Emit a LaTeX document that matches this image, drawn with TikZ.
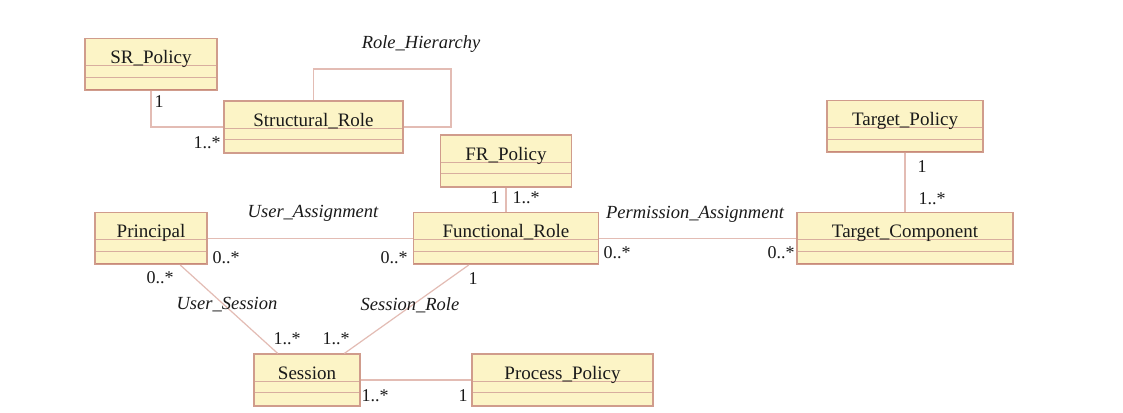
\documentclass[tikz,border=0pt]{standalone}
\usepackage{fontspec}
\setmainfont{Liberation Serif}
\definecolor{boxfill}{HTML}{FCF4C6}
\definecolor{boxline}{HTML}{D09C8C}
\definecolor{boxbottom}{HTML}{C98A7A}
\definecolor{divline}{HTML}{D8AE9E}
\definecolor{assocline}{HTML}{E3BCB4}
\definecolor{txt}{HTML}{1A1A1A}
\tikzset{
  classbox/.style={draw=boxline, line width=1.1pt, fill=boxfill, rectangle,
    inner sep=0pt, minimum height=52pt, text height=25pt, text depth=27pt,
    font=\fontsize{19}{21}\selectfont, text=txt,
    path picture={
      \draw[divline, line width=1pt]
        ([yshift=-27pt]path picture bounding box.north west) -- ([yshift=-27pt]path picture bounding box.north east);
      \draw[divline, line width=1pt]
        ([yshift=-38.5pt]path picture bounding box.north west) -- ([yshift=-38.5pt]path picture bounding box.north east);
      \draw[boxbottom, line width=2.4pt]
        (path picture bounding box.south west) -- (path picture bounding box.south east);
    }},
  assoc/.style={draw=assocline, line width=1.2pt},
  mult/.style={font=\fontsize{18}{20}\selectfont, text=txt, inner sep=0pt},
  rname/.style={font=\fontsize{18.5}{20}\selectfont\itshape, text=txt, inner sep=0pt}
}
\begin{document}
\begin{tikzpicture}[x=1pt,y=-1pt]
\useasboundingbox[fill=white] (0,0) rectangle (1123,412);
% class boxes
\node[classbox, minimum width=132pt] (srp) at (151,64.5) {SR\_Policy};
\node[classbox, minimum width=179pt] (srole) at (313.5,127) {Structural\_Role};
\node[classbox, minimum width=131pt] (frp) at (506,161) {FR\_Policy};
\node[classbox, minimum width=156pt] (tp) at (905,126.5) {Target\_Policy};
\node[classbox, minimum width=112pt] (princ) at (151,238.5) {Principal};
\node[classbox, minimum width=185pt] (frole) at (506,238.5) {Functional\_Role};
\node[classbox, minimum width=216pt] (tc) at (905,238.5) {Target\_Component};
\node[classbox, minimum width=106pt] (sess) at (307,380) {Session};
\node[classbox, minimum width=181pt] (pp) at (562.5,380) {Process\_Policy};
% connectors
\coordinate (rhc) at (451,69);
\draw[assoc] (srp) |- (srole);
\draw[assoc] (srole.north) |- (rhc) |- (srole.east);
\draw[assoc] (frp) -- (frole);
\draw[assoc] (tp) -- (tc);
\draw[assoc] (princ) -- (frole);
\draw[assoc] (frole) -- (tc);
\draw[assoc] (princ) -- (sess);
\draw[assoc] (frole) -- (sess);
\draw[assoc] (sess) -- (pp);
% association names
\node[rname] (lrh) at (421,44) {Role\_Hierarchy};
\node[rname] (lua) at (313,213) {User\_Assignment};
\node[rname] (lpa) at (695,214) {Permission\_Assignment};
\node[rname] (lus) at (227,305) {User\_Session};
\node[rname] (lsr) at (410,305) {Session\_Role};
% multiplicities
\node[mult] (m1) at (159,102) {1};
\node[mult] (m2) at (207,143) {1..*};
\node[mult] (m3) at (495,198) {1};
\node[mult] (m4) at (526,198) {1..*};
\node[mult] (m5) at (922,167) {1};
\node[mult] (m6) at (932,199) {1..*};
\node[mult] (m7) at (226,258) {0..*};
\node[mult] (m8) at (394,258) {0..*};
\node[mult] (m9) at (617,253) {0..*};
\node[mult] (m10) at (781,253) {0..*};
\node[mult] (m11) at (160,278) {0..*};
\node[mult] (m12) at (473,279) {1};
\node[mult] (m13) at (287,339) {1..*};
\node[mult] (m14) at (336,339) {1..*};
\node[mult] (m15) at (375,396) {1..*};
\node[mult] (m16) at (463,396) {1};
\end{tikzpicture}
\end{document}
